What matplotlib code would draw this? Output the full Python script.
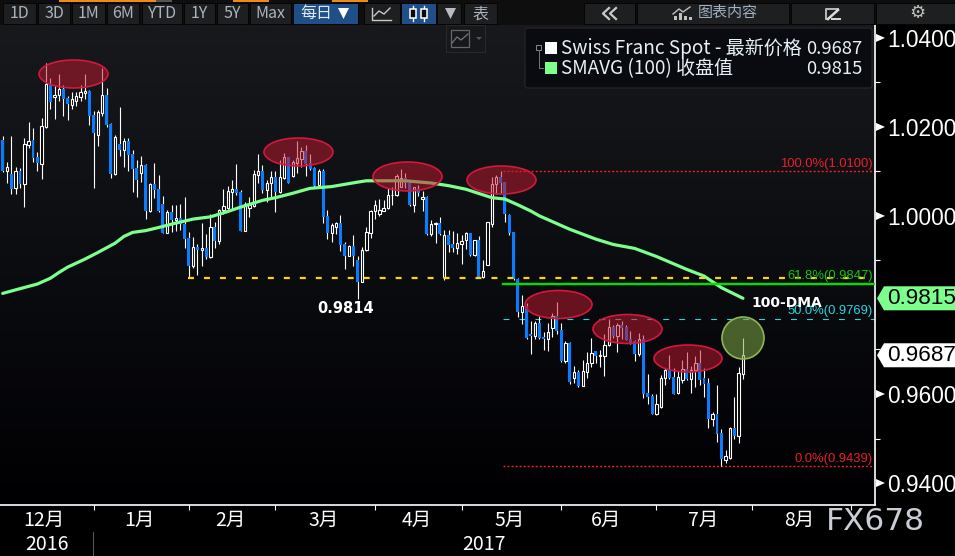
"""Swiss Franc spot daily candles with 100-day SMA, terminal-style dark chart."""
import matplotlib
matplotlib.use("Agg")
import matplotlib.pyplot as plt
import numpy as np
from matplotlib.colors import LinearSegmentedColormap
from matplotlib.patches import Ellipse, FancyBboxPatch, Polygon, Rectangle

highs = [
    1.0180, 1.0122, 1.0180, 1.0111, 1.0107, 1.0175, 1.0211, 1.0197, 1.0143, 1.0220,
    1.0344, 1.0310, 1.0294, 1.0319, 1.0294, 1.0270, 1.0279, 1.0279, 1.0294, 1.0319,
    1.0283, 1.0235, 1.0238, 1.0332, 1.0288, 1.0208, 1.0182, 1.0245, 1.0175, 1.0175,
    1.0148, 1.0126, 1.0135, 1.0117, 1.0074, 1.0119, 1.0092, 1.0045, 1.0014, 1.0025,
    1.0025, 1.0027, 1.0043, 0.9964, 0.9953, 0.9937, 0.9984, 0.9960, 1.0005, 0.9987,
    1.0016, 1.0061, 1.0068, 1.0081, 1.0117, 1.0059, 1.0032, 1.0043, 1.0103, 1.0139,
    1.0115, 1.0081, 1.0100, 1.0100, 1.0126, 1.0142, 1.0133, 1.0126, 1.0169, 1.0156,
    1.0160, 1.0139, 1.0109, 1.0105, 1.0105, 1.0014, 0.9984, 0.9987, 1.0002, 0.9942,
    0.9935, 0.9957, 0.9910, 0.9931, 0.9975, 1.0014, 1.0036, 1.0038, 1.0036, 1.0062,
    1.0066, 1.0094, 1.0105, 1.0096, 1.0081, 1.0066, 1.0070, 1.0056, 1.0045, 0.9991,
    0.9987, 0.9997, 0.9969, 0.9969, 0.9966, 0.9961, 0.9957, 0.9965, 0.9961, 0.9946,
    0.9954, 0.9901, 0.9987, 1.0088, 1.0092, 1.0100, 1.0077, 1.0005, 0.9965, 0.9860,
    0.9823, 0.9804, 0.9764, 0.9763, 0.9775, 0.9740, 0.9759, 0.9783, 0.9807, 0.9759,
    0.9718, 0.9717, 0.9663, 0.9654, 0.9677, 0.9694, 0.9726, 0.9697, 0.9699, 0.9735,
    0.9769, 0.9755, 0.9759, 0.9764, 0.9754, 0.9742, 0.9722, 0.9736, 0.9733, 0.9645,
    0.9600, 0.9600, 0.9643, 0.9658, 0.9688, 0.9658, 0.9652, 0.9677, 0.9694, 0.9662,
    0.9686, 0.9699, 0.9658, 0.9635, 0.9560, 0.9620, 0.9521, 0.9474, 0.9526, 0.9593,
    0.9661, 0.9726,
]
lows = [
    1.0099, 1.0075, 1.0050, 1.0050, 1.0062, 1.0021, 1.0152, 1.0122, 1.0100, 1.0084,
    1.0197, 1.0241, 1.0218, 1.0259, 1.0225, 1.0216, 1.0241, 1.0246, 1.0259, 1.0263,
    1.0205, 1.0063, 1.0157, 1.0225, 1.0200, 1.0085, 1.0093, 1.0135, 1.0110, 1.0101,
    1.0054, 1.0043, 1.0077, 0.9993, 1.0008, 1.0041, 1.0009, 0.9962, 0.9962, 0.9964,
    0.9966, 0.9969, 0.9928, 0.9861, 0.9883, 0.9867, 0.9888, 0.9903, 0.9906, 0.9928,
    0.9937, 1.0005, 1.0016, 1.0014, 1.0047, 0.9966, 0.9966, 0.9998, 1.0019, 1.0074,
    1.0051, 1.0032, 1.0040, 1.0008, 1.0051, 1.0083, 1.0074, 1.0087, 1.0096, 1.0111,
    1.0090, 1.0103, 1.0066, 1.0066, 0.9984, 0.9948, 0.9942, 0.9960, 0.9921, 0.9881,
    0.9910, 0.9888, 0.9814, 0.9852, 0.9921, 0.9950, 0.9993, 0.9999, 1.0011, 1.0015,
    1.0025, 1.0045, 1.0064, 1.0062, 1.0023, 1.0008, 1.0044, 1.0010, 0.9957, 0.9955,
    0.9940, 0.9957, 0.9855, 0.9918, 0.9919, 0.9915, 0.9892, 0.9926, 0.9910, 0.9910,
    0.9860, 0.9860, 0.9890, 0.9976, 1.0050, 1.0051, 0.9987, 0.9957, 0.9856, 0.9774,
    0.9757, 0.9724, 0.9690, 0.9723, 0.9724, 0.9699, 0.9697, 0.9729, 0.9735, 0.9671,
    0.9669, 0.9623, 0.9624, 0.9615, 0.9617, 0.9636, 0.9660, 0.9669, 0.9661, 0.9641,
    0.9708, 0.9726, 0.9694, 0.9724, 0.9721, 0.9712, 0.9674, 0.9686, 0.9591, 0.9578,
    0.9555, 0.9553, 0.9569, 0.9620, 0.9633, 0.9600, 0.9600, 0.9625, 0.9632, 0.9602,
    0.9616, 0.9620, 0.9593, 0.9524, 0.9528, 0.9492, 0.9438, 0.9446, 0.9454, 0.9499,
    0.9490, 0.9634,
]
opens = [
    1.0171, 1.0102, 1.0094, 1.0062, 1.0101, 1.0072, 1.0160, 1.0171, 1.0132, 1.0117,
    1.0200, 1.0297, 1.0268, 1.0271, 1.0285, 1.0265, 1.0250, 1.0259, 1.0268, 1.0277,
    1.0281, 1.0227, 1.0181, 1.0232, 1.0272, 1.0207, 1.0094, 1.0162, 1.0149, 1.0169,
    1.0139, 1.0108, 1.0097, 1.0115, 1.0011, 1.0072, 1.0061, 1.0027, 0.9962, 1.0009,
    0.9991, 0.9996, 0.9982, 0.9951, 0.9888, 0.9930, 0.9924, 0.9928, 0.9908, 0.9975,
    0.9944, 1.0014, 1.0018, 1.0054, 1.0061, 1.0054, 0.9966, 1.0018, 1.0023, 1.0092,
    1.0101, 1.0059, 1.0073, 1.0088, 1.0054, 1.0085, 1.0133, 1.0089, 1.0120, 1.0129,
    1.0145, 1.0119, 1.0108, 1.0070, 1.0101, 1.0000, 0.9962, 0.9976, 0.9984, 0.9937,
    0.9910, 0.9932, 0.9901, 0.9852, 0.9923, 0.9962, 1.0010, 1.0005, 1.0011, 1.0017,
    1.0046, 1.0047, 1.0065, 1.0085, 1.0074, 1.0025, 1.0060, 1.0038, 1.0042, 0.9960,
    0.9981, 0.9984, 0.9862, 0.9957, 0.9937, 0.9928, 0.9938, 0.9946, 0.9961, 0.9912,
    0.9946, 0.9862, 0.9890, 0.9982, 1.0071, 1.0088, 1.0077, 1.0002, 0.9964, 0.9858,
    0.9784, 0.9797, 0.9735, 0.9731, 0.9760, 0.9728, 0.9724, 0.9749, 0.9775, 0.9744,
    0.9674, 0.9715, 0.9636, 0.9650, 0.9618, 0.9650, 0.9669, 0.9697, 0.9686, 0.9686,
    0.9709, 0.9751, 0.9730, 0.9755, 0.9751, 0.9724, 0.9718, 0.9690, 0.9724, 0.9602,
    0.9596, 0.9555, 0.9571, 0.9635, 0.9654, 0.9638, 0.9602, 0.9632, 0.9656, 0.9634,
    0.9654, 0.9670, 0.9636, 0.9625, 0.9544, 0.9555, 0.9512, 0.9452, 0.9456, 0.9524,
    0.9506, 0.9645,
]
closes = [
    1.0101, 1.0109, 1.0061, 1.0101, 1.0072, 1.0162, 1.0169, 1.0131, 1.0118, 1.0202,
    1.0297, 1.0257, 1.0272, 1.0285, 1.0263, 1.0252, 1.0263, 1.0270, 1.0279, 1.0281,
    1.0225, 1.0187, 1.0233, 1.0272, 1.0205, 1.0095, 1.0178, 1.0148, 1.0169, 1.0137,
    1.0106, 1.0081, 1.0114, 1.0011, 1.0072, 1.0059, 1.0011, 0.9962, 1.0009, 0.9991,
    0.9996, 0.9982, 0.9948, 0.9888, 0.9930, 0.9924, 0.9928, 0.9908, 0.9975, 0.9944,
    1.0014, 1.0023, 1.0056, 1.0061, 1.0052, 0.9966, 1.0027, 1.0025, 1.0094, 1.0101,
    1.0059, 1.0074, 1.0088, 1.0054, 1.0088, 1.0133, 1.0074, 1.0121, 1.0130, 1.0145,
    1.0117, 1.0106, 1.0068, 1.0101, 0.9998, 0.9962, 0.9979, 0.9984, 0.9935, 0.9910,
    0.9932, 0.9910, 0.9852, 0.9923, 0.9963, 1.0011, 1.0024, 1.0013, 1.0017, 1.0047,
    1.0047, 1.0089, 1.0085, 1.0074, 1.0024, 1.0064, 1.0051, 1.0042, 0.9960, 0.9981,
    0.9984, 0.9960, 0.9957, 0.9935, 0.9928, 0.9939, 0.9944, 0.9961, 0.9912, 0.9945,
    0.9860, 0.9877, 0.9986, 1.0072, 1.0088, 1.0074, 1.0005, 0.9961, 0.9858, 0.9784,
    0.9797, 0.9726, 0.9731, 0.9760, 0.9726, 0.9724, 0.9739, 0.9775, 0.9742, 0.9674,
    0.9715, 0.9628, 0.9649, 0.9618, 0.9652, 0.9669, 0.9692, 0.9686, 0.9688, 0.9710,
    0.9751, 0.9731, 0.9755, 0.9749, 0.9722, 0.9715, 0.9690, 0.9724, 0.9600, 0.9593,
    0.9555, 0.9578, 0.9636, 0.9654, 0.9636, 0.9600, 0.9638, 0.9656, 0.9633, 0.9654,
    0.9670, 0.9632, 0.9623, 0.9544, 0.9554, 0.9510, 0.9454, 0.9461, 0.9524, 0.9506,
    0.9647, 0.9687,
]

sma_bars = [0, 3, 8, 11, 13, 15, 19, 22, 26, 28, 30, 33, 36, 40, 44, 48, 52, 55, 60,
            63, 67, 71, 76, 82, 84, 88, 93, 99, 103, 107, 113, 116, 119, 122, 124, 131,
            137, 141, 146, 151, 158, 162, 166, 171]
sma_values = [0.9826, 0.9834, 0.9847, 0.9860, 0.9873, 0.9885, 0.9903, 0.9918, 0.9939,
              0.9954, 0.9963, 0.9967, 0.9974, 0.9984, 0.9993, 0.9998, 1.0010, 1.0020,
              1.0035, 1.0041, 1.0051, 1.0062, 1.0066, 1.0076, 1.0079, 1.0079, 1.0079,
              1.0074, 1.0068, 1.0060, 1.0041, 1.0038, 1.0025, 1.0011, 1.0000, 0.9970,
              0.9948, 0.9936, 0.9927, 0.9909, 0.9880, 0.9865, 0.9839, 0.9815]

month_bars = [21, 43, 63, 86, 106, 129, 151, 173, 196]
month_label_bars = [9.5, 31.7, 52.7, 74.2, 95.7, 117.2, 139.3, 161.7, 184.1]
month_labels = ["12月", "1月", "2月", "3月", "4月", "5月", "6月", "7月", "8月"]
year_label_bars = [10.2, 111.2]
year_labels = ["2016", "2017"]

y_major = [0.94, 0.96, 0.98, 1.00, 1.02, 1.04]
y_minor = [0.95, 0.97, 0.99, 1.01, 1.03]

support_level = 0.9861
fib_levels = [1.0100, 0.9847, 0.9769, 0.9439]
fib_labels = ["100.0%(1.0100)", "61.8%(0.9847)", "50.0%(0.9769)", "0.0%(0.9439)"]
fib_colors = ["#e8202a", "#12c512", "#25d8e0", "#e8202a"]
last_price = 0.9687
last_sma = 0.9815

BLUE = "#0a7cff"
CJK = ["Noto Sans CJK SC", "DejaVu Sans"]
W, H = 955, 556

plt.rcParams["lines.scale_dashes"] = False
plt.rcParams["font.family"] = ["Liberation Sans", "Noto Sans CJK SC", "DejaVu Sans"]

fig = plt.figure(figsize=(W / 100, H / 100), dpi=100, facecolor="black")
ax = fig.add_axes([0, (H - 505) / H, 875 / W, 480 / H], facecolor="black")

x_lim = (-0.62, 201.5)
y_lim = (0.93506, 1.0429)

grad = LinearSegmentedColormap.from_list("bg", ["#000003", "#17191d"])
ax.imshow(np.linspace(0, 1, 256).reshape(-1, 1), origin="lower", aspect="auto", cmap=grad,
          extent=(x_lim[0], x_lim[1], y_lim[0], y_lim[1]), zorder=0)

# candles
x = np.arange(len(closes))
o = np.array(opens)
c = np.array(closes)
down = c < o
ax.vlines(x, lows, highs, color="white", lw=0.8, zorder=3)
ax.bar(x[down], (o - c)[down], bottom=c[down], width=0.68, color=BLUE, lw=0, zorder=4)
ax.bar(x[~down], (c - o)[~down], bottom=o[~down], width=0.55, facecolor="black",
       edgecolor="white", lw=0.8, zorder=4)

ax.plot(sma_bars, sma_values, color="#7dff8e", lw=2.3, zorder=5, solid_capstyle="round")

# levels, the fib ones start at the last swing
fib_x0, x_end = 115.5, x_lim[1]
ax.plot([42.8, x_end], [support_level] * 2, color="#ffd400", lw=1.6,
        ls=(0, (4.3, 7.2)), zorder=6)
ax.plot([fib_x0, x_end], [fib_levels[1]] * 2, color="#00e000", lw=1.7, zorder=6)
ax.plot([fib_x0, x_end], [fib_levels[2]] * 2, color="#25d8e0", lw=0.8,
        ls=(0, (4.3, 7.2)), zorder=2)
for lv in (fib_levels[0], fib_levels[3]):
    ax.plot([fib_x0, x_end], [lv, lv], color="#ff2020", lw=1.0, ls=(0, (1.4, 1.5)), zorder=2)

label_offsets = [7, 8, 7.5, 7]
for lv, txt, col, off in zip(fib_levels, fib_labels, fib_colors, label_offsets):
    ax.annotate(txt, xy=(1, lv), xycoords=ax.get_yaxis_transform(), xytext=(-1.5, off * 0.72),
                textcoords="offset points", ha="right", va="center", color=col,
                fontsize=9.4, zorder=7)

ax.text(79.3, 0.9793, "0.9814", color="white", fontsize=10.5, fontweight="bold",
        family="DejaVu Sans", ha="center", va="center", zorder=7)
ax.text(173, 0.9804, "100-DMA", color="white", fontsize=10, fontweight="bold",
        family="DejaVu Sans", ha="left", va="center", zorder=7)

ax.set_xlim(x_lim)
ax.set_ylim(y_lim)
for s in ("top", "left"):
    ax.spines[s].set_visible(False)
for s in ("right", "bottom"):
    ax.spines[s].set_color("white")
    ax.spines[s].set_linewidth(1.2)

ax.yaxis.tick_right()
ax.set_yticks(y_major)
# 0.98 sits behind the SMA flag, so its label stays empty
ax.set_yticklabels(["" if v == 0.98 else f"{v:.4f}" for v in y_major])
ax.set_yticks(y_minor, minor=True)
ax.tick_params(axis="y", which="major", length=0, pad=8.6, labelsize=16.4, labelcolor="white")
ax.tick_params(axis="y", which="minor", length=3.6, width=0.8, color="white")
ax.set_xticks(month_bars)
ax.set_xticklabels([])
ax.tick_params(axis="x", length=3.6, width=0.8, color="white", direction="out")

xtrans = ax.get_xaxis_transform()
for b, txt in zip(month_label_bars, month_labels):
    ax.text(b, -15 / 480, txt, transform=xtrans, color="white", ha="center", va="center",
            fontsize=14, family=CJK, clip_on=False)
for b, txt in zip(year_label_bars, year_labels):
    ax.text(b, -40 / 480, txt, transform=xtrans, color="white", ha="center", va="center",
            fontsize=14, family=CJK, clip_on=False)

# pixel-space overlay for annotations and the terminal chrome
ov = fig.add_axes([0, 0, 1, 1], facecolor="none", zorder=10)
ov.set_xlim(0, W)
ov.set_ylim(H, 0)
ov.axis("off")

fig.canvas.draw()


def y_px(price):
    return H - ax.transData.transform((0, price))[1]


# highlighted zones
zones = [(73.5, 74, 69, 28), (298.5, 152, 69, 28), (407.5, 176.5, 69, 29), (501.5, 180, 69, 28),
         (558.5, 304.5, 67, 28), (627.5, 329, 69, 29), (688, 358.5, 68, 27)]
for cx, cy, w, h in zones:
    ov.add_patch(Ellipse((cx, cy), w, h, facecolor=(0.76, 0.10, 0.19, 0.52),
                         edgecolor="#d2183c", lw=1.2))
ov.add_patch(Ellipse((743, 338), 42, 42, facecolor=(0.50, 0.66, 0.28, 0.55),
                     edgecolor="#8fb552", lw=1.2))

# axis triangles and price flags
for v in y_major:
    yy = y_px(v)
    if v != 0.98:
        ov.add_patch(Polygon([(876, yy - 4), (876, yy + 4), (885, yy)], color="white", lw=0))
for v, bg in ((last_sma, "#7dff8e"), (last_price, "white")):
    yy = y_px(v)
    ov.add_patch(Polygon([(877, yy), (884, yy - 12), (955, yy - 12), (955, yy + 12), (884, yy + 12)],
                         color=bg, lw=0))
    ov.text(887, yy, f"{v:.4f}", color="black", fontsize=16.2, va="center", ha="left")

# watermark and year divider
ov.text(826, 521, "FX678", color="#c9ced6", fontsize=22.5, va="center", ha="left",
        family="DejaVu Sans")
ov.plot([93, 93], [532, 556], color="#555555", lw=0.8)

# legend
ov.add_patch(FancyBboxPatch((527, 30), 343, 56, boxstyle="round,pad=2,rounding_size=3",
                            facecolor="#0a0b10", edgecolor="#26282c", lw=0.8))
ov.add_patch(Rectangle((545, 42), 12, 12, color="white", lw=0))
ov.add_patch(Rectangle((545, 62), 12, 12, color="#7dff8e", lw=0))
ov.add_patch(Rectangle((536, 45), 5, 5, fill=False, edgecolor="#888888", lw=0.7))
ov.plot([538.5, 538.5, 543], [50, 68, 68], color="#777777", lw=0.7)
ov.text(561, 48.5, "Swiss Franc Spot - 最新价格", color="#e8f0f8", fontsize=13.7, va="center", family=CJK)
ov.text(561, 68.5, "SMAVG (100) 收盘值", color="#e8f0f8", fontsize=13.7, va="center", family=CJK)
ov.text(862, 48.5, "0.9687", color="#e8f0f8", fontsize=13.3, va="center", ha="right", family=CJK)
ov.text(862, 68.5, "0.9815", color="#e8f0f8", fontsize=13.3, va="center", ha="right", family=CJK)

# toolbar
ov.add_patch(Rectangle((0, 0), W, 25, color="#0e0e0e", lw=0))
for x0, x1 in [(59, 156), (233, 269), (332, 368)]:
    ov.add_patch(Rectangle((x0, 0), x1 - x0, 1.5, color="#ef8a17", lw=0))
ov.add_patch(Rectangle((156, 0), 16, 1.5, color="#555555", lw=0))

buttons = [(3, 36, "1D"), (38, 70, "3D"), (72, 105, "1M"), (107, 139, "6M"), (142, 182, "YTD"),
           (184, 215, "1Y"), (217, 248, "5Y"), (250, 291, "Max"), (364, 400, ""), (437, 461, ""),
           (464, 497, "表"), (584, 635, ""), (637, 789, ""), (791, 874, ""), (876, 955, "")]
for x0, x1, txt in buttons:
    ov.add_patch(Rectangle((x0, 3), x1 - x0, 21, facecolor="#1e1f20", edgecolor="#050505", lw=0.7))
    if txt:
        ov.text((x0 + x1) / 2, 14, txt, color="#a9b4be", fontsize=11.5, ha="center", va="center", family=CJK)
for x0, x1 in [(293, 358), (401, 436)]:
    ov.add_patch(Rectangle((x0, 3), x1 - x0, 21, facecolor="#1f4f86", edgecolor="#050505", lw=0.7))
ov.text(316, 13.5, "每日", color="#dfe9f5", fontsize=11.5, ha="center", va="center", family=CJK)
ov.add_patch(Polygon([(338, 8), (349, 8), (343.5, 19)], color="white", lw=0))
ov.add_patch(Polygon([(445, 8), (456, 8), (450.5, 19)], color="#b8bcc0", lw=0))
ov.text(727.5, 13.5, "图表内容", color="#9fb0c0", fontsize=10.8, ha="center", va="center", family=CJK)

# toolbar icons
ov.plot([372, 372, 391], [8, 20, 20], color="#c8c8c8", lw=1)
ov.plot([374, 379, 384, 390], [16, 11, 14, 8], color="#c8c8c8", lw=1)
for cx in (413, 424):
    ov.plot([cx, cx], [6, 21], color="white", lw=1, zorder=1)
    ov.add_patch(Rectangle((cx - 3, 9), 6, 9, facecolor="#0a0a0a", edgecolor="white", lw=1.1))
for off in (0, 7):
    ov.plot([609 + off, 603 + off, 609 + off], [8, 13.5, 19], color="#c8c8c8", lw=1.6)
ov.plot([673, 679, 683, 690], [14, 9, 12, 7], color="#c0c0c0", lw=1)
for bx, bh in [(674, 4), (679, 7), (684, 4), (689, 3)]:
    ov.add_patch(Rectangle((bx, 20 - bh), 3, bh, color="#c0c0c0", lw=0))
ov.plot([826, 826, 838], [19, 9, 9], color="#bbbbbb", lw=1.4)
ov.plot([828, 838], [19, 10], color="#dddddd", lw=1.8)
ov.plot([832, 840], [19, 19], color="#dddddd", lw=1.4)
ov.text(917, 13.5, "⚙", color="#bcbcbc", fontsize=13, ha="center", va="center", family="DejaVu Sans")

# small chart-type box under the toolbar
ov.add_patch(Rectangle((446, 25), 39, 27, facecolor="#17181b", edgecolor="#2a2a2a", lw=0.7))
ov.add_patch(Rectangle((451, 30), 18, 17, fill=False, edgecolor="#666666", lw=0.9))
ov.plot([452, 457, 461, 468], [43, 37, 40, 34], color="#777777", lw=0.9)
ov.add_patch(Polygon([(476, 37), (482, 37), (479, 40)], color="#555555", lw=0))

fig.savefig("out.png", dpi=100, facecolor="black")
plt.close(fig)
